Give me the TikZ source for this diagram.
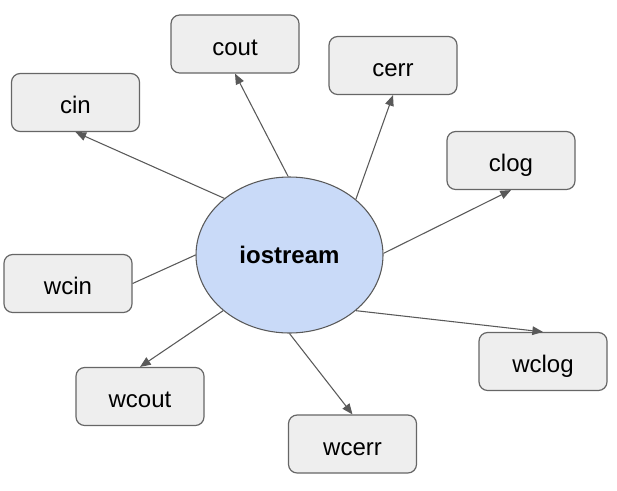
\documentclass[tikz,border=0pt]{standalone}
\usepackage{fontspec}
\setmainfont{Liberation Sans}
\usetikzlibrary{arrows.meta,shapes.geometric}
\definecolor{boxfill}{HTML}{EEEEEE}
\definecolor{boxline}{HTML}{666666}
\definecolor{ellfill}{HTML}{C9DAF8}
\definecolor{ellline}{HTML}{595959}
\definecolor{arrcol}{HTML}{595959}
\begin{document}
\begin{tikzpicture}[x=0.75pt,y=-0.75pt,
  streambox/.style={draw=boxline,fill=boxfill,line width=0.9pt,rounded corners=6.5pt,
    minimum width=96pt,minimum height=43.5pt,inner sep=0pt,
    text height=16.5pt,text depth=0pt,
    font=\fontsize{18}{22}\selectfont},
  hub/.style={ellipse,draw=ellline,fill=ellfill,line width=0.8pt,
    minimum width=140.25pt,minimum height=117pt,inner sep=0pt,
    font=\fontsize{18}{22}\selectfont\bfseries},
  conn/.style={draw=arrcol,line width=0.8pt,-{Triangle[length=8pt,width=6.5pt]}},
  plain/.style={draw=arrcol,line width=0.8pt}]
\useasboundingbox (0,0) rectangle (617,490);
\node[hub] (io) at (289.5,255) {iostream};
\node[streambox] (cout) at (235,44) {cout};
\node[streambox] (cerr) at (393,65.5) {cerr};
\node[streambox] (cin) at (75.5,102.5) {cin};
\node[streambox] (clog) at (511,160.5) {clog};
\node[streambox] (wcin) at (68,283.5) {wcin};
\node[streambox] (wclog) at (543,361.5) {wclog};
\node[streambox] (wcout) at (140,396.5) {wcout};
\node[streambox] (wcerr) at (352.5,444) {wcerr};
\draw[conn] (io.139) -- (cin.south);
\draw[conn] (io.91) -- (cout.south);
\draw[conn] (io.40.5) -- (cerr.south);
\draw[conn] (io.1) -- (clog.south);
\draw[plain] (io.180) -- (wcin.east);
\draw[conn] (io.220.5) -- (wcout.north);
\draw[conn] (io.270) -- (wcerr.north);
\draw[conn] (io.320) -- (wclog.north);
\end{tikzpicture}
\end{document}
